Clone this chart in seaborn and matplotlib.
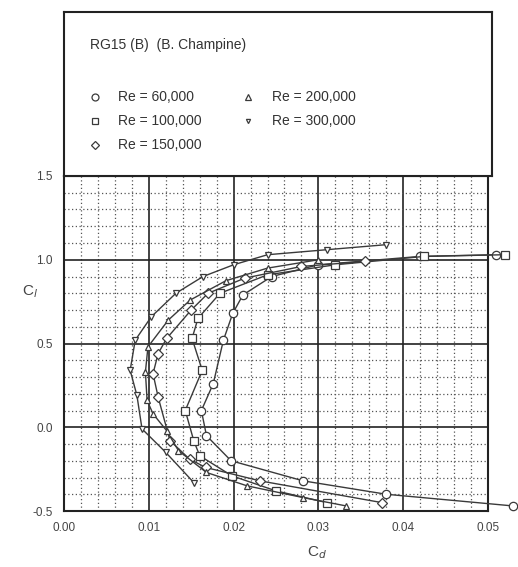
import numpy as np
import pandas as pd
import matplotlib
matplotlib.use("Agg")
import matplotlib.pyplot as plt
from matplotlib.ticker import MultipleLocator
import seaborn as sns

# drag polars (Cd, Cl)
re_labels = ["Re = 60,000", "Re = 100,000", "Re = 150,000", "Re = 200,000", "Re = 300,000"]

cd_60k = [0.0530, 0.0380, 0.0282, 0.0197, 0.0168, 0.0162, 0.0176, 0.0188, 0.0199, 0.0211, 0.0245, 0.0300, 0.0420, 0.0510]
cl_60k = [-0.47, -0.40, -0.32, -0.20, -0.05, 0.10, 0.26, 0.52, 0.68, 0.79, 0.90, 0.97, 1.02, 1.03]

cd_100k = [0.0310, 0.0250, 0.0198, 0.0160, 0.0153, 0.0143, 0.0163, 0.0151, 0.0158, 0.0184, 0.0240, 0.0320, 0.0425, 0.0520]
cl_100k = [-0.45, -0.38, -0.29, -0.17, -0.08, 0.10, 0.34, 0.53, 0.65, 0.80, 0.91, 0.97, 1.02, 1.03]

cd_150k = [0.0375, 0.0231, 0.0167, 0.0148, 0.0125, 0.0111, 0.0105, 0.0111, 0.0121, 0.0150, 0.0170, 0.0213, 0.0280, 0.0355]
cl_150k = [-0.45, -0.32, -0.24, -0.19, -0.08, 0.18, 0.32, 0.44, 0.53, 0.70, 0.80, 0.89, 0.96, 0.99]

cd_200k = [0.0333, 0.0282, 0.0216, 0.0168, 0.0135, 0.0121, 0.0105, 0.0098, 0.0096, 0.0099, 0.0123, 0.0149, 0.0191, 0.0240, 0.0300]
cl_200k = [-0.47, -0.42, -0.35, -0.27, -0.14, -0.02, 0.08, 0.16, 0.33, 0.48, 0.64, 0.76, 0.875, 0.95, 1.00]

cd_300k = [0.0153, 0.0120, 0.0092, 0.0086, 0.0078, 0.0084, 0.0103, 0.0132, 0.0164, 0.0200, 0.0240, 0.0310, 0.0380]
cl_300k = [-0.33, -0.15, -0.01, 0.19, 0.34, 0.52, 0.66, 0.80, 0.90, 0.97, 1.03, 1.06, 1.09]

markers = ["o", "s", "D", "^", "v"]
marker_sizes = [6, 6, 5, 5, 4]

frames = []
for lab, cd, cl in zip(re_labels,
                       [cd_60k, cd_100k, cd_150k, cd_200k, cd_300k],
                       [cl_60k, cl_100k, cl_150k, cl_200k, cl_300k]):
    frames.append(pd.DataFrame({"cd": cd, "cl": cl, "Re": lab, "idx": range(len(cd))}))
df = pd.concat(frames, ignore_index=True)

sns.set_style("white")
plt.rcParams["font.family"] = ["Liberation Sans", "DejaVu Sans"]

fig = plt.figure(figsize=(5.18, 5.67), dpi=100)
ax = fig.add_axes([64 / 518, 1 - 511 / 567, 424 / 518, 335 / 567])

ink = "#3a3a3a"
for lab, m, ms in zip(re_labels, markers, marker_sizes):
    sub = df[df["Re"] == lab]
    sns.lineplot(data=sub, x="cd", y="cl", sort=False, estimator=None, ax=ax,
                 color=ink, linewidth=1.0, marker=m, markersize=ms,
                 markerfacecolor="white", markeredgecolor=ink, markeredgewidth=0.9,
                 clip_on=False, legend=False, zorder=3)

ax.set_xlim(0, 0.05)
ax.set_ylim(-0.5, 1.5)
ax.xaxis.set_major_locator(MultipleLocator(0.01))
ax.xaxis.set_minor_locator(MultipleLocator(0.002))
ax.yaxis.set_major_locator(MultipleLocator(0.5))
ax.yaxis.set_minor_locator(MultipleLocator(0.1))
ax.grid(which="major", color="#222222", linewidth=1.2, linestyle="-")
ax.grid(which="minor", color="#555555", linewidth=0.9, linestyle=(0, (1, 2)))
ax.set_axisbelow(True)
for s in ax.spines.values():
    s.set_color("#222222")
    s.set_linewidth(1.5)

ax.set_xticks([0.0, 0.01, 0.02, 0.03, 0.04, 0.05])
ax.set_xticklabels(["0.00", "0.01", "0.02", "0.03", "0.04", "0.05"])
ax.set_yticks([-0.5, 0.0, 0.5, 1.0, 1.5])
ax.set_yticklabels(["-0.5", "0.0", "0.5", "1.0", "1.5"])
ax.tick_params(which="both", length=0, labelsize=8.5, labelcolor="#444444", pad=8)

ax.set_xlabel("C$_d$", fontsize=11, color="#444444")
ax.xaxis.set_label_coords(0.597, -0.1)
ax.set_ylabel("C$_l$", fontsize=11, color="#444444", rotation=0)
ax.yaxis.set_label_coords(-0.08, 0.63)

# legend box above the plot
lg = fig.add_axes([64 / 518, 1 - 176 / 567, 428 / 518, 164 / 567])
lg.set_xlim(0, 1)
lg.set_ylim(0, 1)
lg.set_xticks([])
lg.set_yticks([])
for s in lg.spines.values():
    s.set_color("#222222")
    s.set_linewidth(1.5)
lg.text(0.06, 0.80, "RG15 (B)  (B. Champine)", fontsize=10, color="#333333", va="center")

leg_pos = [(0.072, 0.48), (0.072, 0.335), (0.072, 0.19), (0.43, 0.48), (0.43, 0.335)]
for lab, m, ms, (px, py) in zip(re_labels, markers, marker_sizes, leg_pos):
    lg.plot([px], [py], marker=m, markersize=ms - 1, markerfacecolor="white",
            markeredgecolor=ink, markeredgewidth=0.9, linestyle="none")
    lg.text(px + 0.055, py, lab, fontsize=10, color="#333333", va="center")

fig.savefig("out.png", dpi=100)
